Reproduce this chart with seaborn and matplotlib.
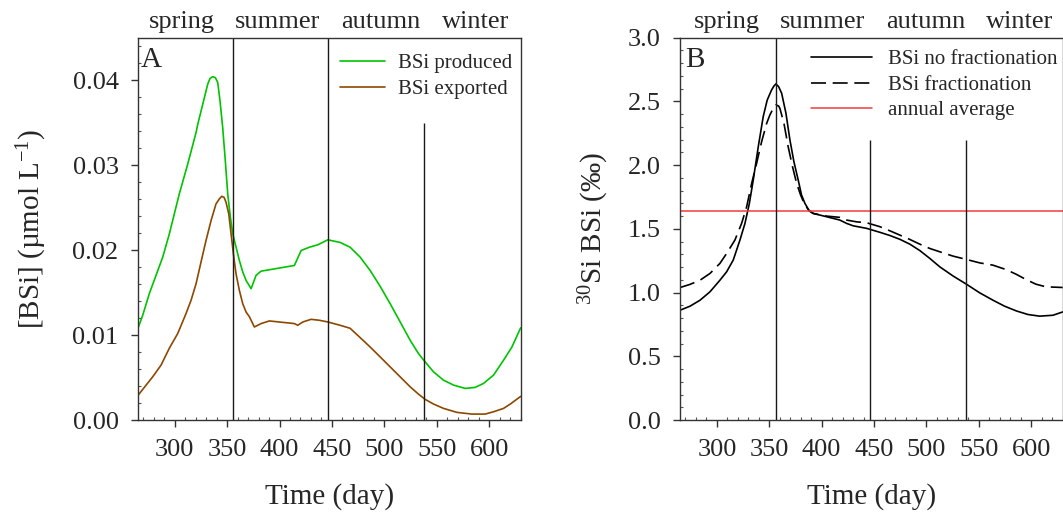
import numpy as np
import pandas as pd
import matplotlib
matplotlib.use("Agg")
import matplotlib.pyplot as plt
from matplotlib.ticker import MultipleLocator
import seaborn as sns

# ---------------- data ----------------
# Panel A: BSi produced (green)
prod_day = [265, 269.5, 275.8, 282.2, 288.6, 294.9, 304.4, 312.4, 320.4, 322, 326.8, 331.5,
            333.7, 336.3, 338.8, 341.1, 343.3, 345.8, 348.3, 350.6, 353.1, 355.4, 361.7, 365,
            368.1, 372.9, 377.6, 382.4, 414.2, 420.6, 428.5, 436.5, 446.1, 457.8, 467.3,
            476.9, 486.4, 496, 505.5, 515.1, 524.6, 532.5, 538.9, 546.9, 556.4, 566, 577.1,
            586.6, 594.6, 604.1, 613.7, 621.7, 630]
prod_val = [0.0108, 0.01232, 0.01487, 0.01702, 0.01917, 0.0219, 0.02661, 0.0301, 0.03384,
            0.0348, 0.03717, 0.03952, 0.0402, 0.04041, 0.0403, 0.03971, 0.0375, 0.03443,
            0.0305, 0.02661, 0.0239, 0.02191, 0.01878, 0.0174, 0.01643, 0.01546, 0.01702,
            0.01752, 0.01819, 0.01995, 0.02034, 0.02062, 0.02121, 0.0209, 0.02034, 0.01917,
            0.01761, 0.01573, 0.0137, 0.01154, 0.00939, 0.00783, 0.00684, 0.00567, 0.00469,
            0.00411, 0.00372, 0.00384, 0.00431, 0.00528, 0.00704, 0.0086, 0.01085]

# Panel A: BSi exported (brown)
exp_day = [265, 279, 287, 294.9, 302.9, 310.8, 315.6, 320.4, 325.1, 329.9, 334.7, 339.4,
           342.6, 344.9, 347.1, 349, 351.6, 353.8, 356, 358.5, 361.7, 364.9, 368.1, 371.2,
           376, 382.4, 390.3, 414.2, 417.4, 422.2, 430.1, 438, 446.1, 457.8, 467.3, 476.9,
           486.4, 496, 505.5, 515.1, 524.6, 532.5, 538.9, 546.9, 556.4, 569.2, 583.5, 596.2,
           604.1, 613.7, 620.1, 630]
exp_val = [0.0029, 0.00508, 0.00646, 0.00845, 0.01018, 0.01252, 0.01408, 0.01604, 0.01858,
           0.02113, 0.02347, 0.02543, 0.02602, 0.02633, 0.02621, 0.02562, 0.02426, 0.02191,
           0.01957, 0.01722, 0.01526, 0.0137, 0.01271, 0.01217, 0.01095, 0.01135, 0.01166,
           0.01135, 0.01115, 0.01154, 0.01185, 0.01174, 0.01154, 0.01115, 0.0108, 0.0097,
           0.0086, 0.00743, 0.00626, 0.00508, 0.00391, 0.00305, 0.00243, 0.00188, 0.00137,
           0.0009, 0.0007, 0.0007, 0.00097, 0.00137, 0.00188, 0.00278]

# Panel B: d30Si BSi without fractionation (solid)
nofrac_day = [265, 274.3, 283.9, 293.4, 302.9, 309.3, 315.6, 322, 326.8, 331, 334.7, 339.5,
              344.2, 348, 352.2, 354.4, 356.3, 358.9, 361.8, 365.9, 369.7, 373.5, 377.6,
              380.8, 384, 388.1, 391.9, 404.7, 417.3, 423.7, 430, 442.8, 455.5, 465, 474.6,
              484.1, 493.6, 503.2, 512.7, 525.4, 538.1, 550.8, 563.5, 574.6, 585.8, 596.8,
              608, 620.7, 630]
nofrac_val = [0.862, 0.893, 0.94, 1.006, 1.097, 1.163, 1.255, 1.412, 1.543, 1.70, 1.883,
              2.145, 2.38, 2.51, 2.59, 2.62, 2.637, 2.616, 2.564, 2.407, 2.197, 2.027, 1.883,
              1.765, 1.70, 1.642, 1.621, 1.595, 1.569, 1.543, 1.524, 1.504, 1.473, 1.448,
              1.418, 1.38, 1.33, 1.268, 1.202, 1.13, 1.066, 0.998, 0.94, 0.893, 0.856,
              0.828, 0.815, 0.822, 0.848]

# Panel B: d30Si BSi with fractionation (dashed)
frac_day = [265, 274.3, 283.9, 293.4, 302.9, 309.3, 317.2, 323.6, 328.4, 333.2, 337.9, 342.7,
            347.5, 350.6, 353.8, 356.3, 358.9, 360.1, 364, 368, 372.2, 376.1, 379.9, 384,
            388.1, 391.9, 404.7, 417.3, 423.7, 433.3, 442.8, 455.5, 465, 474.6, 484.1, 493.6,
            503.2, 512.7, 525.4, 538.1, 550.8, 563.5, 575.8, 585.3, 594.9, 604.4, 614, 630]
frac_val = [1.04, 1.064, 1.097, 1.15, 1.229, 1.307, 1.412, 1.543, 1.673, 1.857, 2.014,
            2.184, 2.328, 2.394, 2.446, 2.472, 2.464, 2.446, 2.328, 2.145, 1.987, 1.857,
            1.765, 1.687, 1.642, 1.621, 1.60, 1.59, 1.569, 1.555, 1.548, 1.517, 1.485, 1.451,
            1.417, 1.38, 1.346, 1.32, 1.286, 1.26, 1.233, 1.215, 1.181, 1.145, 1.103, 1.066,
            1.045, 1.04]

annual_average = 1.64

season_bounds = [356, 446, 538]
bounds_top_A = [0.045, 0.045, 0.035]
bounds_top_B = [3.0, 2.2, 2.2]

season_names = ["spring", "summer", "autumn", "winter"]
season_pos_A = [307, 398, 497, 587]
season_pos_B = [310, 401, 499, 589]

xticks = [300, 350, 400, 450, 500, 550, 600]
yticks_A = [0.00, 0.01, 0.02, 0.03, 0.04]
yticks_B = [0.0, 0.5, 1.0, 1.5, 2.0, 2.5, 3.0]

# ---------------- style ----------------
sns.set_theme(style="ticks")
plt.rcParams["font.family"] = ["Liberation Serif", "DejaVu Serif"]
plt.rcParams["mathtext.fontset"] = "custom"
plt.rcParams["mathtext.rm"] = "Liberation Serif"
plt.rcParams["mathtext.it"] = "Liberation Serif:italic"
plt.rcParams["mathtext.bf"] = "Liberation Serif:bold"
plt.rcParams["axes.edgecolor"] = "#333333"
plt.rcParams["axes.linewidth"] = 1.0

GREEN = "#00c400"
BROWN = "#8c4800"
RED = "#f03c3c"

fig = plt.figure(figsize=(10.63, 5.16), dpi=100)
axA = fig.add_axes([0.1298, 0.186, 0.3600, 0.741])
axB = fig.add_axes([0.6399, 0.186, 0.3598, 0.741])

dfA = pd.concat([
    pd.DataFrame({"day": prod_day, "val": prod_val, "series": "BSi produced"}),
    pd.DataFrame({"day": exp_day, "val": exp_val, "series": "BSi exported"}),
])
dfB = pd.concat([
    pd.DataFrame({"day": nofrac_day, "val": nofrac_val, "series": "BSi no fractionation"}),
    pd.DataFrame({"day": frac_day, "val": frac_val, "series": "BSi fractionation"}),
])

sns.lineplot(data=dfA, x="day", y="val", hue="series",
             palette={"BSi produced": GREEN, "BSi exported": BROWN},
             linewidth=1.2, sort=False, estimator=None, ax=axA)
sns.lineplot(data=dfB, x="day", y="val", style="series",
             dashes={"BSi no fractionation": "", "BSi fractionation": (9, 4)},
             color="black", linewidth=1.2, sort=False, estimator=None, ax=axB)
axB.axhline(annual_average, color=RED, lw=1.1, label="annual average")

axA.vlines(season_bounds, 0, bounds_top_A, color="#1a1a1a", lw=1.0)
axB.vlines(season_bounds, 0, bounds_top_B, color="#1a1a1a", lw=1.0)

for ax, ylim, yt, minor_y in [(axA, (0, 0.045), yticks_A, 0.002),
                              (axB, (0, 3.0), yticks_B, 0.1)]:
    ax.set_xlim(265, 630)
    ax.set_ylim(*ylim)
    ax.set_xticks(xticks)
    ax.set_yticks(yt)
    ax.xaxis.set_minor_locator(MultipleLocator(10))
    ax.yaxis.set_minor_locator(MultipleLocator(minor_y))
    ax.tick_params(which="major", direction="out", length=5, width=1.0,
                   labelsize=19, pad=9, color="#333333")
    ax.tick_params(which="minor", direction="in", length=2.5, width=0.8,
                   color="#555555")
    for s in ax.spines.values():
        s.set_visible(True)
    ax.set_xlabel("Time (day)", fontsize=21)
    ax.xaxis.set_label_coords(0.5, -0.165)

axA.set_yticklabels([f"{v:.2f}" for v in yticks_A])
axB.set_yticklabels([f"{v:.1f}" for v in yticks_B])

axA.set_ylabel("[BSi] (µmol L$^{-1}$)", fontsize=21)
axA.yaxis.set_label_coords(-0.232, 0.5)
axB.set_ylabel("$^{30}$Si BSi (‰)", fontsize=21)
axB.yaxis.set_label_coords(-0.18, 0.5)

for ax, pos in [(axA, season_pos_A), (axB, season_pos_B)]:
    for name, xp in zip(season_names, pos):
        ax.text(xp, 1.024, name, transform=ax.get_xaxis_transform(),
                ha="center", va="baseline", fontsize=19)

axA.text(0.007, 0.924, "A", transform=axA.transAxes, fontsize=21, va="baseline")
axB.text(0.012, 0.924, "B", transform=axB.transAxes, fontsize=21, va="baseline")

hA, lA = axA.get_legend_handles_labels()
axA.legend(hA, lA, loc="upper left", bbox_to_anchor=(0.527, 0.958), frameon=False,
           fontsize=15, borderpad=0, borderaxespad=0, handlelength=2.2,
           handletextpad=0.6, labelspacing=0.3)
hB, lB = axB.get_legend_handles_labels()
axB.legend(hB, lB, loc="upper left", bbox_to_anchor=(0.343, 0.968), frameon=False,
           fontsize=15, borderpad=0, borderaxespad=0, handlelength=2.9,
           handletextpad=0.8, labelspacing=0.28)

fig.savefig("out.png", dpi=100)
